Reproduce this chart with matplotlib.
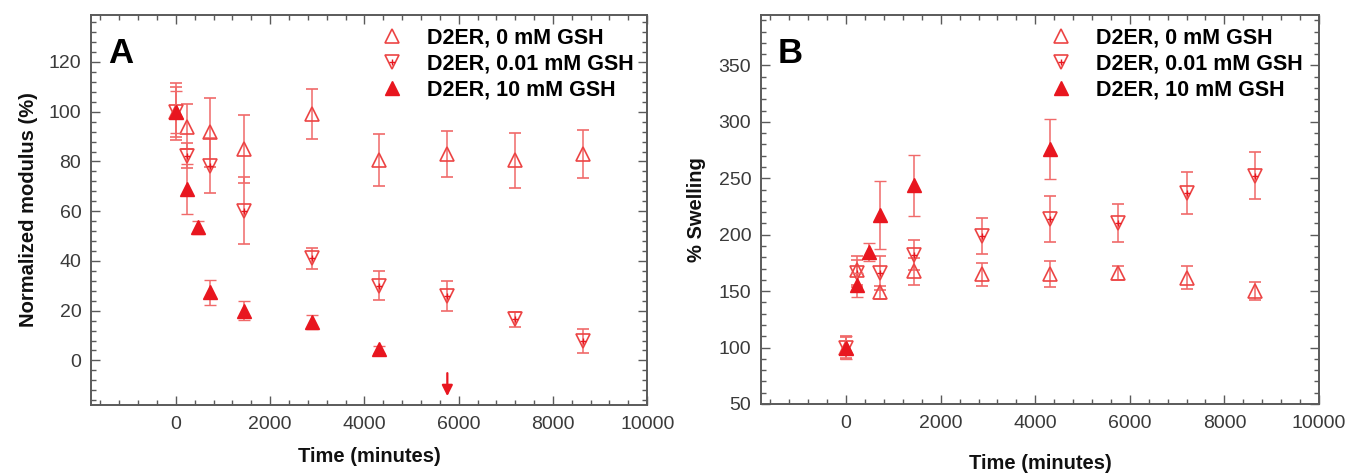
import matplotlib
matplotlib.use('Agg')
import matplotlib.pyplot as plt
from matplotlib.lines import Line2D
from matplotlib.legend_handler import HandlerTuple
from matplotlib.ticker import MultipleLocator

plt.rcParams['font.family'] = ['Liberation Sans', 'DejaVu Sans']

labels = ['D2ER, 0 mM GSH', 'D2ER, 0.01 mM GSH', 'D2ER, 10 mM GSH']

# ---------------- Panel A: normalized modulus ----------------
t_a_0 = [0, 240, 720, 1440, 2880, 4320, 5760, 7200, 8640]
mod_0 = [100, 94, 91.7, 85, 99, 80.5, 83, 80.5, 83]
mod_0_err = [11.5, 9, 14, 13.5, 10, 10.5, 9.4, 11, 9.7]

t_a_001 = [0, 240, 720, 1440, 2880, 4320, 5760, 7200, 8640]
mod_001 = [100, 82.3, 78.3, 60.2, 41, 30, 26, 16.5, 7.8]
mod_001_err = [10, 5, 11, 13.5, 4.3, 5.8, 6, 3, 4.7]

t_a_10 = [0, 240, 480, 720, 1440, 2880, 4320]
mod_10 = [100, 69, 53.5, 27.4, 20, 15.4, 4.4]
mod_10_err = [8.5, 10, 2.5, 5, 3.7, 2.7, 1.5]

arrow_time = 5760
arrow_from = -4
arrow_to = -15.5

# ---------------- Panel B: % swelling ----------------
t_b_0 = [0, 240, 720, 1440, 2880, 4320, 5760, 7200, 8640]
sw_0 = [100, 168.5, 149, 167.5, 165, 165, 166, 162, 150]
sw_0_err = [10, 13, 6, 12, 10, 11.5, 6, 10, 8]

t_b_001 = [0, 240, 720, 1440, 2880, 4320, 5760, 7200, 8640]
sw_001 = [100, 166, 166, 182, 198.5, 214, 210.5, 237, 252.5]
sw_001_err = [9, 12, 15, 13, 16, 20, 17, 19, 21]

t_b_10 = [0, 240, 480, 720, 1440, 4320]
sw_10 = [100, 155.5, 185, 217.5, 244, 276]
sw_10_err = [10, 11, 8, 30, 27, 27]

RED = '#e8161f'
RED_OPEN = '#ec4444'
RED_ERR = '#f06a6a'
SPINE = '#5a5a5a'
TXT = '#3a3a3a'

fig = plt.figure(figsize=(13.5, 4.75), dpi=100)
axA = fig.add_axes([0.0674, 0.147, 0.412, 0.822])
axB = fig.add_axes([0.5637, 0.1495, 0.4133, 0.8195])

MS = 10.5


def draw_series(ax, t0, y0, e0, t1, y1, e1, t2, y2, e2):
    ax.errorbar(t0, y0, yerr=e0, fmt='^', ms=MS, mfc='none', mec=RED_OPEN, mew=1.2,
                ecolor=RED_ERR, elinewidth=1.1, capsize=4.5, capthick=1.1, zorder=3)
    ax.errorbar(t1, y1, yerr=e1, fmt='v', ms=MS, mfc='none', mec=RED_OPEN, mew=1.2,
                ecolor=RED_ERR, elinewidth=1.1, capsize=4.5, capthick=1.1, zorder=3)
    ax.plot(t1, y1, '+', ms=4, mew=1.0, color=RED, zorder=4, linestyle='none')
    ax.errorbar(t2, y2, yerr=e2, fmt='^', ms=MS, mfc=RED, mec=RED, mew=1.0,
                ecolor=RED_ERR, elinewidth=1.1, capsize=4.5, capthick=1.1, zorder=5)


def style_axis(ax, ymajor, yminor):
    ax.set_xlim(-1800, 10000)
    ax.xaxis.set_major_locator(MultipleLocator(2000))
    ax.xaxis.set_minor_locator(MultipleLocator(400))
    ax.yaxis.set_major_locator(MultipleLocator(ymajor))
    ax.yaxis.set_minor_locator(MultipleLocator(yminor))
    ax.tick_params(which='both', direction='in', top=True, right=True, color=SPINE,
                   width=1.0, labelcolor=TXT, labelsize=14)
    ax.tick_params(which='major', length=6.5)
    ax.tick_params(which='minor', length=3.5)
    ax.tick_params(axis='x', pad=8)
    ax.tick_params(axis='y', pad=7)
    for s in ax.spines.values():
        s.set_color(SPINE)
        s.set_linewidth(1.4)


def add_legend(ax, x0):
    h0 = Line2D([], [], marker='^', ms=MS, mfc='none', mec=RED_OPEN, mew=1.2, ls='none')
    h1a = Line2D([], [], marker='v', ms=MS, mfc='none', mec=RED_OPEN, mew=1.2, ls='none')
    h1b = Line2D([], [], marker='+', ms=4, mew=1.0, color=RED, ls='none')
    h2 = Line2D([], [], marker='^', ms=MS, mfc=RED, mec=RED, ls='none')
    ax.legend([h0, (h1a, h1b), h2], labels, loc='upper left', bbox_to_anchor=(x0, 0.968),
              frameon=False, prop={'size': 15.5, 'weight': 'bold'}, handlelength=1.0,
              handletextpad=1.1, labelspacing=0.24, borderpad=0, borderaxespad=0,
              handler_map={tuple: HandlerTuple(ndivide=1, pad=0)})


# Panel A
draw_series(axA, t_a_0, mod_0, mod_0_err, t_a_001, mod_001, mod_001_err,
            t_a_10, mod_10, mod_10_err)
axA.annotate('', xy=(arrow_time, arrow_to), xytext=(arrow_time, arrow_from),
             arrowprops=dict(arrowstyle='-|>', color=RED, lw=1.6, mutation_scale=16))
style_axis(axA, 20, 4)
axA.set_ylim(-18, 139)
axA.set_xlabel('Time (minutes)', fontsize=14.5, fontweight='bold', color='#111111')
axA.xaxis.set_label_coords(0.5, -0.108)
axA.xaxis.label.set_va('top')
axA.set_ylabel('Normalized modulus (%)', fontsize=14.5, fontweight='bold', color='#111111')
axA.yaxis.set_label_coords(-0.095, 0.5)
axA.text(0.031, 0.876, 'A', transform=axA.transAxes, fontsize=25, fontweight='bold',
         va='baseline', ha='left', color='black')
add_legend(axA, 0.522)

# Panel B
draw_series(axB, t_b_0, sw_0, sw_0_err, t_b_001, sw_001, sw_001_err,
            t_b_10, sw_10, sw_10_err)
style_axis(axB, 50, 10)
axB.set_ylim(50, 395)
axB.set_xlabel('Time (minutes)', fontsize=14.5, fontweight='bold', color='#111111')
axB.xaxis.set_label_coords(0.5, -0.128)
axB.xaxis.label.set_va('top')
axB.set_ylabel('% Swelling', fontsize=14.5, fontweight='bold', color='#111111')
axB.yaxis.set_label_coords(-0.098, 0.5)
axB.text(0.0305, 0.877, 'B', transform=axB.transAxes, fontsize=25, fontweight='bold',
         va='baseline', ha='left', color='black')
add_legend(axB, 0.519)

fig.savefig('out.png', dpi=100)
